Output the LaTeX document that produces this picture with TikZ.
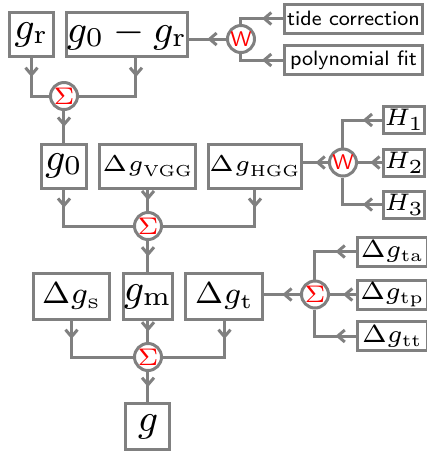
\RequirePackage{fix-cm}
\documentclass[tikz,border=0pt]{standalone}
\usetikzlibrary{decorations.markings,arrows.meta,calc}
\begin{document}
\begin{tikzpicture}[x=0.25pt,y=-0.25pt,
  ln/.style={draw=gray,line width=0.75pt},
  box/.style={ln,rectangle,inner sep=0pt,anchor=center},
  bigbox/.style={box,minimum height=11pt,font=\fontsize{9.7}{11}\selectfont},
  midbox/.style={box,minimum height=11.5pt,font=\fontsize{7.6}{9}\selectfont},
  vbox/.style={box,minimum height=11pt,font=\fontsize{5.7}{7}\selectfont},
  sbox/.style={box,minimum height=7.25pt,minimum width=34.5pt,font=\sffamily\fontsize{5.2}{6}\selectfont},
  hbox/.style={box,minimum height=6.75pt,minimum width=10.25pt,font=\fontsize{6}{7}\selectfont},
  tbox/.style={box,minimum height=7.25pt,minimum width=17.5pt,font=\fontsize{6.2}{7}\selectfont},
  sumop/.style={ln,circle,inner sep=0pt,minimum size=6.75pt,text=red,font=\fontsize{6}{6}\selectfont},
  wop/.style={sumop,font=\sffamily\fontsize{5.3}{5.5}\selectfont},
  wire/.style={draw=gray,line width=0.75pt},
  midarr/.style={wire,postaction={decorate},decoration={markings,mark=at position 0.5 with {\arrow[gray]{Straight Barb[length=1.75pt,width=3pt]}}}}
]
\useasboundingbox (0,0) rectangle (427,455);
% row 0
\node[bigbox,minimum width=11pt] (gr) at (31.5,34.5) {$g_\mathrm{r}$};
\node[bigbox,minimum width=28.75pt] (g0gr) at (127,34.5) {$g_0-g_\mathrm{r}$};
\node[wop] (w1) at (241,39) {W};
\node[sbox] (tide) at (353.5,18.5) {tide correction};
\node[sbox] (poly) at (353.5,60) {polynomial fit};
\node[sumop] (sum1) at (64,96) {$\Sigma$};
% row 1
\node[bigbox,minimum width=11.25pt] (g0) at (64,166) {$g_0$};
\node[vbox,minimum width=24pt] (vgg) at (148,166) {$\Delta g_\mathrm{VGG}$};
\node[vbox,minimum width=23.25pt] (hgg) at (255,166) {$\Delta g_\mathrm{HGG}$};
\node[wop] (w2) at (343,162.5) {W};
\node[hbox] (h1) at (404.5,120) {$H_1$};
\node[hbox] (h2) at (404.5,162.5) {$H_2$};
\node[hbox] (h3) at (404.5,204.5) {$H_3$};
\node[sumop] (sum2) at (148,226) {$\Sigma$};
% row 2
\node[midbox,minimum width=19pt] (ds) at (71.5,296.5) {$\Delta g_\mathrm{s}$};
\node[bigbox,minimum height=11.5pt,minimum width=11.25pt] (gm) at (148,296.5) {$g_\mathrm{m}$};
\node[midbox,minimum width=19.25pt] (dt) at (224.5,296.5) {$\Delta g_\mathrm{t}$};
\node[sumop] (sum3) at (315,294.5) {$\Sigma$};
\node[tbox] (ta) at (392.5,251.5) {$\Delta g_\mathrm{ta}$};
\node[tbox] (tp) at (392.5,294.5) {$\Delta g_\mathrm{tp}$};
\node[tbox] (tt) at (392.5,336) {$\Delta g_\mathrm{tt}$};
\node[sumop] (sum4) at (148,357) {$\Sigma$};
\node[bigbox,minimum height=11.5pt,minimum width=11pt] (g) at (148,426.5) {$g$};
% connectors row 0
\draw[midarr] (w1) -- (w1 -| g0gr.east);
\draw[wire] (tide.west) -| (w1);
\draw[midarr] (tide.west) -- (tide.west -| w1);
\draw[wire] (poly.west) -| (w1);
\draw[midarr] (poly.west) -- (poly.west -| w1);
\draw[wire] (gr.south) |- (sum1);
\draw[midarr] (gr.south) -- (gr.south |- sum1);
\coordinate (d1) at ([xshift=2.25pt]g0gr.south);
\draw[wire] (d1) |- (sum1);
\draw[midarr] (d1) -- (d1 |- sum1);
\draw[midarr] (sum1) -- (g0);
% connectors row 1
\draw[midarr] (w2) -- (w2 -| hgg.east);
\draw[wire] (h1.west) -| (w2);
\draw[midarr] (h1.west) -- (h1.west -| w2);
\draw[midarr] (h2) -- (w2);
\draw[wire] (h3.west) -| (w2);
\draw[midarr] (h3.west) -- (h3.west -| w2);
\draw[wire] (g0.south) |- (sum2);
\draw[midarr] (g0.south) -- (g0.south |- sum2);
\draw[midarr] (vgg) -- (sum2);
\draw[wire] (hgg.south) |- (sum2);
\draw[midarr] (hgg.south) -- (hgg.south |- sum2);
\draw[midarr] (sum2) -- (gm);
% connectors row 2
\draw[midarr] (sum3) -- (sum3 -| dt.east);
\draw[wire] (ta.west) -| (sum3);
\draw[midarr] (ta.west) -- (ta.west -| sum3);
\draw[midarr] (tp) -- (sum3);
\draw[wire] (tt.west) -| (sum3);
\draw[midarr] (tt.west) -- (tt.west -| sum3);
\draw[wire] (ds.south) |- (sum4);
\draw[midarr] (ds.south) -- (ds.south |- sum4);
\draw[midarr] (gm) -- (sum4);
\draw[wire] (dt.south) |- (sum4);
\draw[midarr] (dt.south) -- (dt.south |- sum4);
\draw[midarr] (sum4) -- (g);
\end{tikzpicture}
\end{document}
